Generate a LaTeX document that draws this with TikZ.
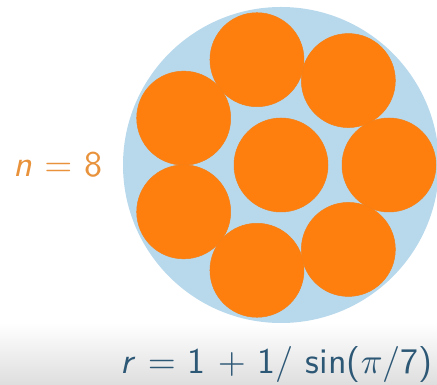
\RequirePackage{fix-cm}
\documentclass[tikz,border=0pt]{standalone}
\usepackage{fontspec}
\usetikzlibrary{calc}
\definecolor{discorange}{HTML}{FF7F0E}
\definecolor{discblue}{HTML}{B8D8EC}
\definecolor{labelorange}{HTML}{E8923C}
\definecolor{formulablue}{HTML}{2C5775}
\tikzset{
 container/.style={circle,fill=discblue,minimum size=316pt,inner sep=0},
 disc/.style={circle,fill=discorange,draw=discorange!85!brown,line width=.5pt,minimum size=94pt,inner sep=0},
 countlabel/.style={text=labelorange,font=\sffamily,scale=3.6,inner sep=0,anchor=base west},
 formula/.style={text=formulablue,font=\sffamily,scale=3.6,inner sep=0,anchor=base west}
}
\begin{document}
\begin{tikzpicture}[x=1pt,y=1pt]
\path[use as bounding box] (0,0) rectangle (437,385);
\shade[top color=white,bottom color=black!13] (0,0) rectangle (437,62);
\node[container] (big) at (281,220) {};
\node[disc] (c0) at (big.center) {};
\foreach \k in {1,...,7}
 \node[disc] (c\k) at ($(big.center)+({360/7*(\k-1)}:108)$) {};
\node[countlabel] (n) at (13,208) {\textit{n} $=$ 8};
\node[formula] (r) at (120,11) {\textit{r} $=$ 1 $+$ 1/ sin($\pi$/7)};
\end{tikzpicture}
\end{document}
